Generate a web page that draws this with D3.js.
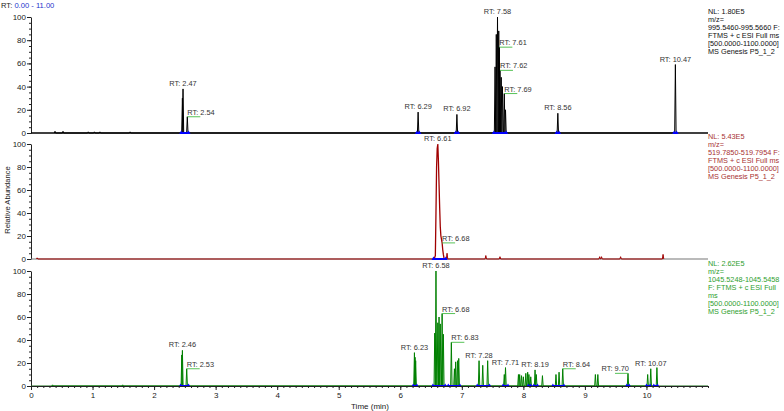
<!DOCTYPE html>
<html>
<head>
<meta charset="utf-8">
<script src="https://cdn.jsdelivr.net/npm/d3@7"></script>
<style>
  body { margin: 0; background: #fff; }
  svg { font-family: "Liberation Sans", Arial, sans-serif; }
  .axis text { fill: #222; }
  .axis path, .axis line { stroke: #222; }
</style>
</head>
<body>
<svg id="chart" width="784" height="411"></svg>
<script>
// retention time range (min)
const rtRange = [0, 11];
const xTicks = [0, 1, 2, 3, 4, 5, 6, 7, 8, 9, 10];
const yTicks = [0, 20, 40, 60, 80, 100];

// panel 1 (black): [RT, relative abundance]
const blackPeaks = [
  [0.39, 1.5], [0.52, 1.5], [0.93, 1], [1.03, 1], [1.12, 1], [1.61, 1],
  [2.46, 30], [2.47, 38], [2.54, 14],
  [6.29, 18], [6.92, 16],
  [7.54, 57], [7.56, 85], [7.58, 100], [7.60, 88], [7.61, 74], [7.62, 54],
  [7.64, 48], [7.66, 40], [7.69, 34], [7.71, 20],
  [8.56, 17], [10.47, 59]
];
const blackLabels = [2.47, 2.54, 6.29, 6.92, 7.58, 7.61, 7.62, 7.69, 8.56, 10.47];
const blackMarks = [[2.44, 2.56], [6.27, 6.31], [6.90, 6.94], [7.52, 7.72], [8.54, 8.58], [10.45, 10.49]];
const blackInfo = ["NL: 1.80E5", "m/z=", "995.5460-995.5660 F:", "FTMS + c ESI Full ms", "[500.0000-1100.0000]", "MS Genesis P5_1_2"];

// panel 2 (red)
const redProfile = [
  [6.55, 0], [6.57, 3], [6.58, 40], [6.59, 80], [6.60, 96], [6.61, 100], [6.62, 85],
  [6.63, 65], [6.64, 45], [6.65, 28], [6.66, 20], [6.67, 17], [6.68, 14], [6.69, 8],
  [6.70, 4], [6.71, 1], [6.72, 0]
];
const redPeaks = [[0.1, 1], [6.76, 5], [7.39, 3], [7.62, 2], [9.24, 2], [9.27, 2], [9.58, 2], [10.27, 4]];
const redLabels = [6.61, 6.68];
const redMarks = [[6.54, 6.74]];
const redInfo = ["NL: 5.43E5", "m/z=", "519.7850-519.7954 F:", "FTMS + c ESI Full ms", "[500.0000-1100.0000]", "MS Genesis P5_1_2"];

// panel 3 (green)
const greenPeaks = [
  [0.35, 1], [1.49, 1],
  [2.45, 27], [2.46, 31], [2.53, 15],
  [6.23, 29], [6.24, 25], [6.25, 22],
  [6.56, 46], [6.58, 100], [6.61, 55], [6.63, 60], [6.65, 54], [6.68, 63], [6.70, 45],
  [6.83, 38], [6.88, 15], [6.90, 21], [6.93, 22], [6.95, 24],
  [7.28, 22], [7.34, 18], [7.42, 22],
  [7.69, 10], [7.71, 16],
  [7.92, 10], [7.94, 10], [7.97, 9], [8.00, 8], [8.04, 11], [8.07, 12], [8.09, 10], [8.12, 8],
  [8.19, 14], [8.21, 10], [8.31, 9],
  [8.53, 10], [8.58, 12], [8.64, 15],
  [9.17, 10], [9.21, 10], [9.70, 11],
  [10.02, 10], [10.07, 15], [10.17, 16]
];
const greenLabels = [2.46, 2.53, 6.23, 6.58, 6.68, 6.83, 7.28, 7.71, 8.19, 8.64, 9.70, 10.07];
const greenMarks = [[2.43, 2.56], [6.21, 6.27], [6.53, 6.73], [6.78, 6.97], [7.25, 7.45], [7.67, 7.75],
  [8.08, 8.12], [8.17, 8.23], [8.48, 8.66], [9.68, 9.72], [10.00, 10.06], [10.12, 10.18]];
const greenInfo = ["NL: 2.62E5", "m/z=", "1045.5248-1045.5458", "F: FTMS + c ESI Full", "ms", "[500.0000-1100.0000]", "MS Genesis P5_1_2"];

// labels drawn beside the peak with a connector instead of above it
const sideLabels = { "2.54": "r", "7.61": "r", "7.62": "r", "7.69": "r", "6.68": "r", "2.53": "r", "6.83": "r", "8.64": "r", "9.70": "l" };

const svg = d3.select("#chart");
const x = d3.scaleLinear().domain(rtRange).range([31, 708]);

const panels = [
  { peaks: blackPeaks, labels: blackLabels, marks: blackMarks, info: blackInfo,
    range: [133, 17], color: "#000", text: "#111", base: "#000", infoY: 14 },
  { peaks: redPeaks, profile: redProfile, labels: redLabels, marks: redMarks, info: redInfo,
    range: [259, 144], color: "#a00000", text: "#a83232", base: "#777", infoY: 139 },
  { peaks: greenPeaks, labels: greenLabels, marks: greenMarks, info: greenInfo,
    range: [386, 271], color: "#008000", text: "#2e9e2e", base: "#1a6e1a", infoY: 266 }
];

const fmt = d3.format(".2f");

panels.forEach((p, i) => {
  const y = d3.scaleLinear().domain([0, 100]).range(p.range);
  const g = svg.append("g");
  const y0 = y(0);

  // y axis
  g.append("g").attr("class", "axis")
    .attr("transform", "translate(31,0)")
    .call(d3.axisLeft(y).tickValues(d3.range(0, 101, 5)).tickSize(2).tickFormat("").tickSizeOuter(0))
    .call(a => a.select(".domain").remove());
  g.append("g").attr("class", "axis")
    .attr("transform", "translate(31,0)")
    .call(d3.axisLeft(y).tickValues(yTicks).tickSize(4).tickPadding(1).tickSizeOuter(0))
    .call(a => a.selectAll("text").style("font-size", "8px"));

  // baseline
  g.append("line")
    .attr("x1", x(rtRange[0])).attr("x2", x(rtRange[1]))
    .attr("y1", y0).attr("y2", y0)
    .attr("stroke", p.base).attr("stroke-width", i === 0 ? 1.6 : 1.2);

  // trace: each scan peak drawn as a narrow spike
  const pts = [];
  p.peaks.forEach(d => {
    const px = x(d[0]);
    pts.push([px - 0.7, y0], [px, y(d[1])], [px + 0.7, y0]);
  });
  const line = d3.line();
  g.append("path")
    .attr("d", line(pts))
    .attr("fill", "none").attr("stroke", p.color).attr("stroke-width", 1);
  if (p.profile) {
    g.append("path")
      .datum(p.profile)
      .attr("d", d3.line().x(d => x(d[0])).y(d => y(d[1])))
      .attr("fill", "none")
      .attr("stroke", p.color).attr("stroke-width", 1.3);
  }

  // peak boundary markers
  p.marks.forEach(m => {
    const mg = g.append("g").attr("fill", "#0000ff");
    mg.append("rect")
      .attr("x", x(m[0])).attr("y", y0 - 1)
      .attr("width", x(m[1]) - x(m[0])).attr("height", 2);
    m.forEach(v => {
      const px = x(v);
      mg.append("path").attr("d", `M${px - 2},${y0 + 1}L${px},${y0 - 2.5}L${px + 2},${y0 + 1}Z`);
    });
  });

  // RT labels
  const all = p.profile ? p.peaks.concat(p.profile) : p.peaks;
  p.labels.forEach(rt => {
    const pk = all.reduce((a, b) => Math.abs(b[0] - rt) < Math.abs(a[0] - rt) ? b : a);
    const val = all.filter(d => Math.abs(d[0] - pk[0]) < 1e-6).reduce((m, d) => Math.max(m, d[1]), 0);
    const px = x(rt), py = y(val);
    const side = sideLabels[fmt(rt)];
    const txt = "RT: " + fmt(rt);
    if (!side) {
      g.append("text")
        .attr("x", px).attr("y", py - 3)
        .attr("text-anchor", "middle")
        .attr("fill", "#333").style("font-size", "7.4px")
        .text(txt);
    } else {
      const dir = side === "r" ? 1 : -1;
      g.append("line")
        .attr("x1", px).attr("x2", px + dir * 13)
        .attr("y1", py).attr("y2", py)
        .attr("stroke", "#44bb44").attr("stroke-width", 0.9);
      g.append("text")
        .attr("x", side === "r" ? px : px + 1).attr("y", py - 2)
        .attr("text-anchor", side === "r" ? "start" : "end")
        .attr("fill", "#333").style("font-size", "7.4px")
        .text(txt);
    }
  });

  // info text at right
  const it = g.append("text")
    .attr("fill", p.text).style("font-size", "7.3px");
  p.info.forEach((s, k) => {
    it.append("tspan").attr("x", 708).attr("y", p.infoY + k * 8).text(s);
  });

  if (i === 2) {
    // time axis
    g.append("g").attr("class", "axis")
      .attr("transform", `translate(0,${y0})`)
      .call(d3.axisBottom(x).tickValues(d3.range(0, 11.001, 0.1)).tickSize(2).tickFormat("").tickSizeOuter(0))
      .call(a => a.select(".domain").remove());
    g.append("g").attr("class", "axis")
      .attr("transform", `translate(0,${y0})`)
      .call(d3.axisBottom(x).tickValues(xTicks).tickSize(4).tickPadding(2).tickSizeOuter(0))
      .call(a => a.selectAll("text").style("font-size", "8px"));
  }
});

// header range
const hdr = svg.append("text").attr("x", 1).attr("y", 8).style("font-size", "7.6px");
hdr.append("tspan").attr("fill", "#222").text("RT: ");
hdr.append("tspan").attr("fill", "#2233cc").text(fmt(rtRange[0]) + " - " + fmt(rtRange[1]));

svg.append("text")
  .attr("transform", "translate(10,200) rotate(-90)")
  .attr("text-anchor", "middle")
  .attr("fill", "#222").style("font-size", "7.6px")
  .text("Relative Abundance");

svg.append("text")
  .attr("x", 370).attr("y", 409)
  .attr("text-anchor", "middle")
  .attr("fill", "#222").style("font-size", "8px")
  .text("Time (min)");
</script>
</body>
</html>
